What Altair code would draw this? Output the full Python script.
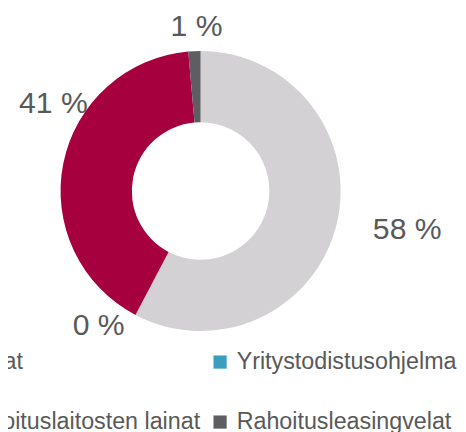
import math
import altair as alt
import pandas as pd

# ---- data ----
categories = ["Lainat", "Yritystodistusohjelma", "Rahoituslaitosten lainat", "Rahoitusleasingvelat"]
shares = [57.7, 0.0, 40.9, 1.4]          # percent of total
colors = ["#D3D1D3", "#3B9EBF", "#A6003F", "#5D5D62"]

# ---- label placement (style, not data) ----
label_nudge = [-0.9, 2.6, 5.35, 0.3]      # percent of circle
label_radius = [214, 172, 174, 166.5]     # px

df = pd.DataFrame({"cat": categories, "share": shares, "idx": range(len(categories))})
cum = df["share"].cumsum()
df["mid"] = cum - df["share"] / 2
df["label_pos"] = df["mid"] + label_nudge
df["r"] = label_radius
df["label"] = df["share"].round(0).astype(int).astype(str) + " %"

FONT = "Liberation Sans"
TXT = "#595959"

arc = alt.Chart(df).mark_arc(innerRadius=70, outerRadius=142.5).encode(
    theta=alt.Theta("share:Q", stack=True),
    order=alt.Order("idx:Q"),
    color=alt.Color(
        "cat:N",
        scale=alt.Scale(domain=categories, range=colors),
        legend=alt.Legend(
            title=None,
            orient="none",
            direction="horizontal",
            legendX=-78,
            legendY=344.5,
            columns=2,
            columnPadding=8,
            rowPadding=36.3,
            padding=0,
            symbolType="square",
            symbolSize=180,
            symbolStrokeWidth=0,
            labelOffset=5,
            labelFont=FONT,
            labelFontSize=23.7,
            labelColor=TXT,
            labelLimit=600,
        ),
    ),
)

labels = alt.Chart(df).mark_text(
    font=FONT, fontSize=30.7, color=TXT, align="center", baseline="middle"
).encode(
    theta=alt.Theta("label_pos:Q", stack=None,
                    scale=alt.Scale(domain=[0, 100], range=[0, 2 * math.pi])),
    radius=alt.Radius("r:Q", scale=None),
    text="label:N",
)

chart = (
    alt.layer(arc, labels)
    .resolve_scale(theta="independent")
    .properties(
        width=392,
        height=365,
        autosize=alt.AutoSizeParams(type="none"),
        padding={"left": 0, "top": 0, "right": 66, "bottom": 59},
    )
    .configure_view(stroke=None)
)

chart.save("out.html", embed_options={"renderer": "svg", "actions": False})
